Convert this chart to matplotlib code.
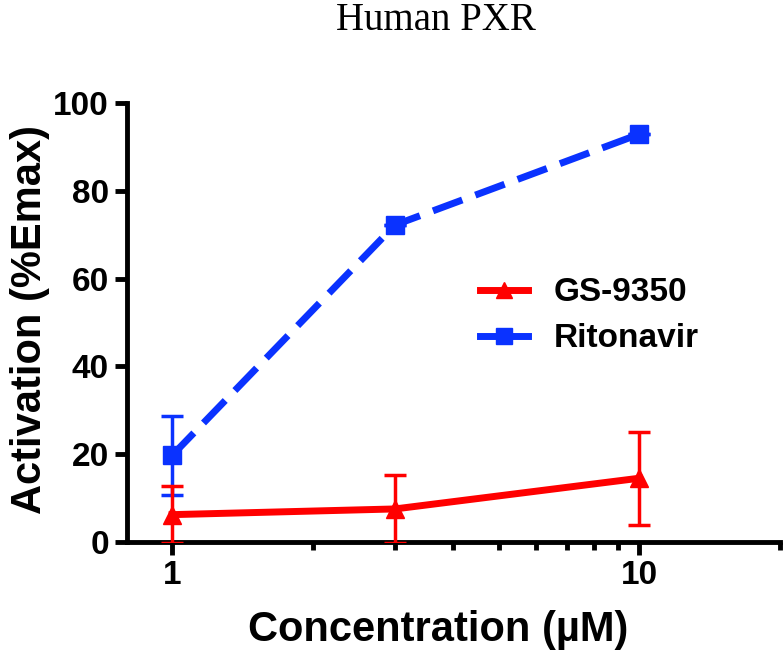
import numpy as np
import matplotlib.pyplot as plt
from matplotlib.lines import Line2D
from matplotlib.ticker import FixedLocator, NullFormatter

# concentrations (uM) and activation (%Emax)
conc = [1, 3, 10]
gs9350 = [6.2, 7.5, 14.5]
gs9350_err = [6.5, 7.7, 10.6]
ritonavir = [19.7, 72.2, 92.9]
ritonavir_err = [9.0, 0.0, 0.0]
series_names = ['GS-9350', 'Ritonavir']

red = '#ff0000'
blue = '#0a32ff'

plt.rcParams['font.family'] = ['Liberation Sans', 'DejaVu Sans']
plt.rcParams['font.weight'] = 'bold'

fig = plt.figure(figsize=(7.83, 6.56), dpi=100)
ax = fig.add_axes([0.162, 0.174, 0.834, 0.669])

ax.errorbar(conc, gs9350, yerr=gs9350_err, color=red, lw=5, marker='^',
            markersize=13, elinewidth=2.5, capsize=8, capthick=2.5, zorder=3)
ax.errorbar(conc, ritonavir, yerr=ritonavir_err, color=blue, lw=5, marker='s',
            markersize=13, elinewidth=2.5, capsize=8, capthick=2.5,
            linestyle=(0, (4.5, 2)), zorder=2)

ax.set_xscale('log')
ax.set_xlim(0.8, 20)
ax.set_ylim(0, 100)

ax.xaxis.set_major_locator(FixedLocator([1, 10]))
ax.xaxis.set_minor_locator(FixedLocator([2, 3, 4, 5, 6, 7, 8, 9, 20]))
ax.xaxis.set_minor_formatter(NullFormatter())
ax.set_xticklabels(['1', '10'])
ax.set_yticks([0, 20, 40, 60, 80, 100])

for s in ['top', 'right']:
    ax.spines[s].set_visible(False)
for s in ['left', 'bottom']:
    ax.spines[s].set_linewidth(3.5)

ax.tick_params(axis='both', which='major', length=9, width=3.5, labelsize=24, pad=4)
ax.tick_params(axis='x', which='minor', length=6, width=3.5)
for lbl in ax.get_xticklabels() + ax.get_yticklabels():
    lbl.set_fontweight('bold')

fig.text(438 / 783, 1 - 630 / 656, 'Concentration (µM)', fontsize=30,
         fontweight='bold', ha='center', va='center')
fig.text(30 / 783, 1 - 320 / 656, 'Activation (%Emax)', fontsize=30,
         fontweight='bold', ha='center', va='center', rotation=90)

fig.text(436 / 783, 1 - 20 / 656, 'Human PXR', fontsize=28, family='Liberation Serif',
         fontweight='normal', ha='center', va='center')

handles = [Line2D([], [], color=red, lw=5, marker='^', markersize=11),
           Line2D([], [], color=blue, lw=5, marker='s', markersize=11)]
leg = ax.legend(handles, series_names, loc='upper left',
                bbox_to_anchor=(0.613, 0.577), bbox_transform=fig.transFigure,
                frameon=False, fontsize=24, borderpad=0, borderaxespad=0,
                handlelength=1.45, handletextpad=0.75, labelspacing=0.45)
for t in leg.get_texts():
    t.set_fontweight('bold')

fig.savefig('out.png', dpi=100)
